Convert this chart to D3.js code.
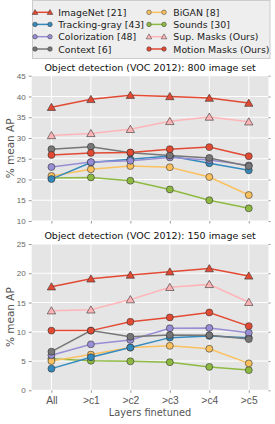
<!DOCTYPE html>
<html><head><meta charset="utf-8">
<script src="https://cdn.jsdelivr.net/npm/d3@7"></script>
<style>body{margin:0;background:#fff}svg{display:block;font-family:"DejaVu Sans",sans-serif}</style>
</head><body><svg id="c" width="275" height="424"></svg>
<script>
const categories = ["All", ">c1", ">c2", ">c3", ">c4", ">c5"];
const seriesNames = ["ImageNet [21]", "Tracking-gray [43]", "Colorization [48]", "Context [6]", "BiGAN [8]", "Sounds [30]", "Sup. Masks (Ours)", "Motion Masks (Ours)"];
const seriesColors = ["#E24A33", "#348ABD", "#988ED5", "#777777", "#FBC15E", "#8EBA42", "#FFB5B8", "#E24A33"];
const seriesMarkers = ["triangle", "circle", "circle", "circle", "circle", "circle", "triangle", "circle"];
// Top panel: 800 image set
const imagenet800 = [37.4, 39.3, 40.3, 40.0, 39.6, 38.4];
const tracking800 = [20.1, 24.1, 24.85, 25.65, 23.9, 22.2];
const colorization800 = [23.0, 24.2, 24.5, 25.3, 24.7, 23.4];
const context800 = [27.3, 27.9, 26.45, 25.8, 25.2, 23.2];
const bigan800 = [20.85, 22.45, 23.25, 22.95, 20.6, 16.25];
const sounds800 = [20.35, 20.5, 19.7, 17.6, 15.0, 13.05];
const supmasks800 = [30.6, 31.1, 32.1, 34.0, 35.05, 33.9];
const motionmasks800 = [25.9, 26.4, 26.5, 27.3, 27.8, 25.6];
// Bottom panel: 150 image set
const imagenet150 = [17.7, 19.05, 19.7, 20.25, 20.8, 19.55];
const tracking150 = [3.7, 5.65, 7.3, 9.0, 9.3, 9.0];
const colorization150 = [6.0, 7.85, 8.6, 10.6, 10.65, 9.85];
const context150 = [6.6, 10.2, 9.15, 9.45, 9.4, 8.75];
const bigan150 = [5.0, 6.1, 7.3, 7.6, 7.1, 4.6];
const sounds150 = [5.4, 5.05, 4.95, 4.8, 4.0, 3.45];
const supmasks150 = [13.6, 13.75, 15.5, 17.6, 18.1, 15.05];
const motionmasks150 = [10.2, 10.2, 11.7, 12.45, 13.3, 10.97];
const yTicks800 = [10, 15, 20, 25, 30, 35, 40, 45];
const yTicks150 = [0, 5, 10, 15, 20, 25];

const data800 = [imagenet800, tracking800, colorization800, context800, bigan800, sounds800, supmasks800, motionmasks800];
const data150 = [imagenet150, tracking150, colorization150, context150, bigan150, sounds150, supmasks150, motionmasks150];

const svg = d3.select("#c");
const L = 31.7, R = 268.5;
const x = d3.scaleLinear().domain([-0.5, 5.5]).range([L, R]);
const order = [5, 4, 1, 2, 3, 7, 6, 0];

function panel(data, yTicks, top, bottom, title, showX) {
  const y = d3.scaleLinear().domain([yTicks[0], yTicks[yTicks.length - 1]]).range([bottom, top]);
  const g = svg.append("g");
  g.append("rect").attr("x", L).attr("y", top).attr("width", R - L).attr("height", bottom - top).attr("fill", "#E5E5E5");
  g.selectAll(".gy").data(yTicks).enter().append("line")
    .attr("x1", L).attr("x2", R).attr("y1", d => y(d)).attr("y2", d => y(d))
    .attr("stroke", "#fff").attr("stroke-width", 1);
  g.selectAll(".gx").data(d3.range(categories.length)).enter().append("line")
    .attr("y1", top).attr("y2", bottom).attr("x1", d => x(d)).attr("x2", d => x(d))
    .attr("stroke", "#fff").attr("stroke-width", 1);
  const ya = d3.axisLeft(y).tickValues(yTicks).tickSize(3).tickPadding(3);
  const yg = g.append("g").attr("transform", `translate(${L},0)`).call(ya);
  yg.select(".domain").remove();
  yg.selectAll("line").attr("stroke", "#999");
  yg.selectAll("text").attr("fill", "#666").style("font-size", "8px");
  const yr = d3.axisRight(y).tickValues(yTicks).tickSize(2).tickFormat("");
  const yrg = g.append("g").attr("transform", `translate(${R},0)`).call(yr);
  yrg.select(".domain").remove();
  yrg.selectAll("line").attr("stroke", "#999");
  const xa = d3.axisBottom(x).tickValues(d3.range(categories.length)).tickFormat(i => showX ? categories[i] : "").tickSize(2.5).tickPadding(4);
  const xg = g.append("g").attr("transform", `translate(0,${bottom})`).call(xa);
  xg.select(".domain").remove();
  xg.selectAll("line").attr("stroke", "#999");
  xg.selectAll("text").attr("fill", "#555").style("font-size", "10.3px");
  g.append("text").attr("transform", `translate(14,${(top + bottom) / 2}) rotate(-90)`)
    .attr("text-anchor", "middle").attr("fill", "#555").style("font-size", "10.5px").text("% mean AP");
  g.append("text").attr("x", (L + R) / 2).attr("y", top - 5).attr("text-anchor", "middle")
    .attr("fill", "#111").style("font-size", "9.5px").text(title);
  const line = d3.line().x((d, i) => x(i)).y(d => y(d));
  order.forEach(s => {
    g.append("path").datum(data[s]).attr("d", line).attr("fill", "none")
      .attr("stroke", seriesColors[s]).attr("stroke-width", 1.5);
  });
  order.forEach(s => {
    const sym = d3.symbol().type(seriesMarkers[s] === "triangle" ? d3.symbolTriangle : d3.symbolCircle)
      .size(seriesMarkers[s] === "triangle" ? 30 : 38);
    g.selectAll(null).data(data[s]).enter().append("path")
      .attr("d", sym).attr("transform", (d, i) => `translate(${x(i)},${y(d) + (seriesMarkers[s] === "triangle" ? 0.8 : 0)})`)
      .attr("fill", seriesColors[s]).attr("stroke", "#333").attr("stroke-width", 0.6);
  });
}

panel(data800, yTicks800, 75.7, 221, "Object detection (VOC 2012): 800 image set", false);
panel(data150, yTicks150, 244, 390.3, "Object detection (VOC 2012): 150 image set", true);

svg.append("text").attr("x", (L + R) / 2).attr("y", 416).attr("text-anchor", "middle")
  .attr("fill", "#555").style("font-size", "9.8px").text("Layers finetuned");

const lg = svg.append("g");
lg.append("rect").attr("x", 32.5).attr("y", 0.5).attr("width", 237.5).attr("height", 58)
  .attr("fill", "#EEEEEE").attr("stroke", "#CCCCCC").attr("stroke-width", 1);
const rows = [12.3, 24.4, 36.7, 49];
seriesNames.forEach((name, s) => {
  const col = Math.floor(s / 4), row = s % 4;
  const x0 = col === 0 ? 35 : 149, x1 = x0 + 15;
  const yy = rows[row];
  lg.append("line").attr("x1", x0).attr("x2", x1).attr("y1", yy).attr("y2", yy)
    .attr("stroke", seriesColors[s]).attr("stroke-width", 1.5);
  const sym = d3.symbol().type(seriesMarkers[s] === "triangle" ? d3.symbolTriangle : d3.symbolCircle)
    .size(seriesMarkers[s] === "triangle" ? 14 : 16);
  [x0, x1].forEach(px => {
    lg.append("path").attr("d", sym).attr("transform", `translate(${px},${yy + (seriesMarkers[s] === "triangle" ? 0.5 : 0)})`)
      .attr("fill", seriesColors[s]).attr("stroke", "#333").attr("stroke-width", 0.5);
  });
  lg.append("text").attr("x", col === 0 ? 58.3 : 173.3).attr("y", yy + 3.5)
    .attr("fill", "#222").style("font-size", "9.4px").text(name);
});
</script></body></html>
